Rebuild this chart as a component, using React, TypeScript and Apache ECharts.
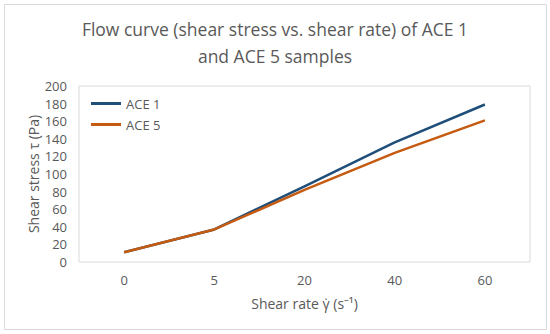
import React, { useEffect, useRef } from "react";
import * as echarts from "echarts";

const categories = ["0", "5", "20", "40", "60"];
const ace1 = [11, 37, 86, 136, 179];
const ace5 = [11, 37, 82, 124, 161];
const titleText = "Flow curve (shear stress vs. shear rate) of ACE 1\nand ACE 5 samples";
const yName = "Shear stress τ (Pa)";
const xName = "Shear rate γ̇ (s⁻¹)";

const FONT = "'Open Sans', 'Noto Sans', sans-serif";
const GRAY = "#595959";

export default function App() {
  const ref = useRef<HTMLDivElement>(null);
  useEffect(() => {
    if (!ref.current) return;
    const chart = echarts.init(ref.current, undefined, { renderer: "svg" });
    chart.setOption({
      animation: false,
      backgroundColor: "#fff",
      textStyle: { fontFamily: FONT },
      title: {
        text: titleText,
        left: "center",
        top: 10,
        textStyle: { fontFamily: FONT, fontSize: 17.5, fontWeight: "normal", color: GRAY, lineHeight: 27 },
      },
      graphic: [
        {
          type: "rect",
          shape: { x: 4.5, y: 4.5, width: 542, height: 325 },
          style: { fill: "none", stroke: "#D9D9D9", lineWidth: 1 },
          silent: true,
        },
      ],
      legend: {
        orient: "vertical",
        left: 86,
        top: 92,
        itemWidth: 30,
        itemHeight: 3,
        itemGap: 8,
        icon: "rect",
        textStyle: { fontFamily: FONT, fontSize: 13, color: GRAY },
        data: ["ACE 1", "ACE 5"],
      },
      grid: {
        left: 79,
        right: 20,
        top: 86,
        bottom: 72,
        show: true,
        borderColor: "#D9D9D9",
        borderWidth: 1,
      },
      xAxis: {
        type: "category",
        data: categories,
        boundaryGap: true,
        axisLine: { show: false },
        axisTick: { show: false },
        axisLabel: { color: GRAY, fontSize: 13, fontFamily: FONT, margin: 11 },
        name: xName,
        nameLocation: "middle",
        nameGap: 34,
        nameTextStyle: { color: GRAY, fontSize: 14, fontFamily: FONT },
      },
      yAxis: {
        type: "value",
        min: 0,
        max: 200,
        interval: 20,
        axisLine: { show: false },
        axisTick: { show: false },
        splitLine: { show: false },
        axisLabel: { color: GRAY, fontSize: 13, fontFamily: FONT, margin: 12 },
        name: yName,
        nameLocation: "middle",
        nameGap: 39,
        nameMoveOverlap: false,
        nameTextStyle: { color: GRAY, fontSize: 14, fontFamily: FONT },
      },
      series: [
        {
          name: "ACE 1",
          type: "line",
          data: ace1,
          symbol: "none",
          lineStyle: { color: "#1F4E79", width: 2.5 },
          itemStyle: { color: "#1F4E79" },
        },
        {
          name: "ACE 5",
          type: "line",
          data: ace5,
          symbol: "none",
          lineStyle: { color: "#C55A11", width: 2.5 },
          itemStyle: { color: "#C55A11" },
        },
      ],
    });
    return () => chart.dispose();
  }, []);
  return (
    <div
      ref={ref}
      style={{ position: "fixed", left: 0, top: 0, width: 550, height: 334 }}
    />
  );
}
